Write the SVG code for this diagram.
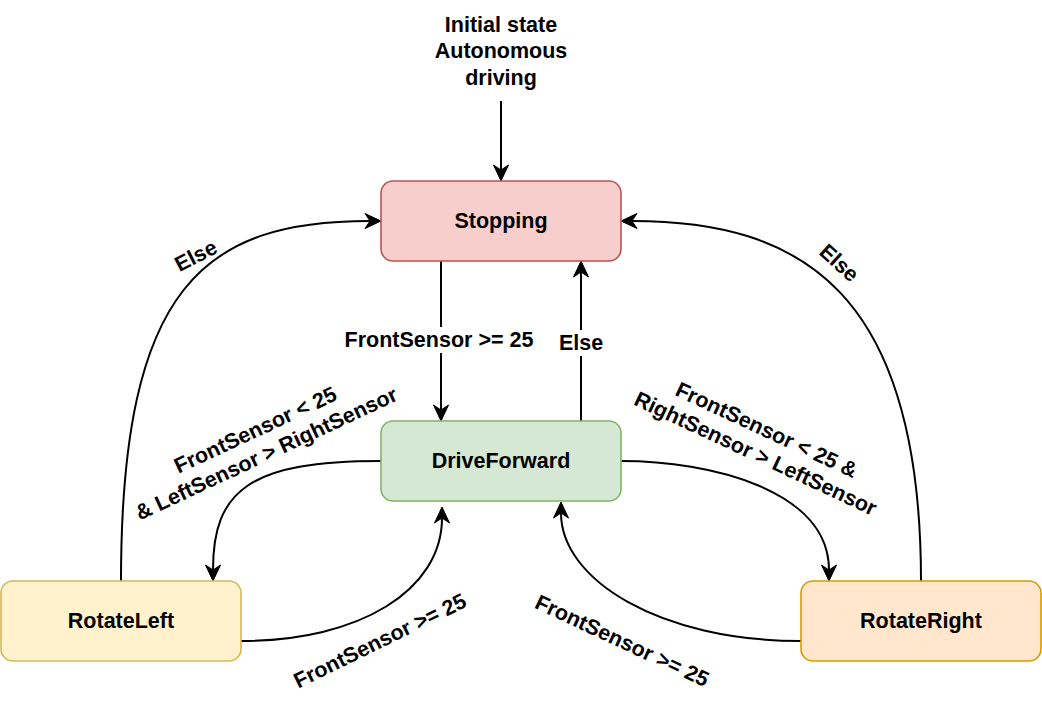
<svg xmlns="http://www.w3.org/2000/svg" width="1042" height="702" viewBox="0 0 1042 702">
<style>
.node rect{stroke-width:1.6}
text{font-family:"Liberation Sans",Arial,Helvetica,sans-serif;font-weight:bold;font-size:21.5px;fill:#000}
.c{text-anchor:middle;dominant-baseline:central}
.edge{fill:none;stroke:#000;stroke-width:2;marker-end:url(#arr)}
</style>
<defs>
<marker id="arr" viewBox="0 -9 18 18" markerWidth="18" markerHeight="18" refX="5" refY="0" orient="auto" markerUnits="userSpaceOnUse" overflow="visible">
<path d="M16,0 L0,-7.5 L5,0 L0,7.5 Z" fill="#000" stroke="#000" stroke-width="1"/>
</marker>
</defs>
<rect width="1042" height="702" fill="#fff"/>
<g id="connectors">
<path class="edge" d="M501,101 L501,170"/>
<path class="edge" d="M441,261 L441,410"/>
<path class="edge" d="M581,421 L581,272"/>
<path class="edge" d="M121,581 C121,285 205,221 370,221"/>
<path class="edge" d="M921,581 C921,290 800,221 632,221"/>
<path class="edge" d="M381,461 C250,461 213,490 213,570"/>
<path class="edge" d="M621,461 C710,461 829,490 829,570"/>
<path class="edge" d="M241,641 C360,641 442,590 442,518"/>
<path class="edge" d="M801,641 C660,641 561,580 561,513"/>
</g>
<g id="edge-labels">
<rect x="339" y="327" width="200" height="26" fill="#fff"/>
<text class="c" x="439" y="340">FrontSensor &gt;= 25</text>
<rect x="557" y="330" width="48" height="26" fill="#fff"/>
<text class="c" x="581" y="343">Else</text>
<text class="c" transform="translate(196,256) rotate(-27)">Else</text>
<text class="c" transform="translate(839,263) rotate(42)">Else</text>
<text class="c" transform="translate(261,442) rotate(-25)"><tspan x="0" y="-13">FrontSensor &lt; 25</tspan><tspan x="0" y="13">&amp; LeftSensor &gt; RightSensor</tspan></text>
<text class="c" transform="translate(761,442) rotate(25)"><tspan x="0" y="-13">FrontSensor &lt; 25 &amp;</tspan><tspan x="0" y="13">RightSensor &gt; LeftSensor</tspan></text>
<text class="c" transform="translate(380,641) rotate(-26)">FrontSensor &gt;= 25</text>
<text class="c" transform="translate(622,641) rotate(25)">FrontSensor &gt;= 25</text>
</g>
<g id="initial-label">
<text class="c" x="501" y="24.5">Initial state</text>
<text class="c" x="501" y="51">Autonomous</text>
<text class="c" x="501" y="77.5">driving</text>
</g>
<g id="Stopping" class="node">
<rect x="381" y="181" width="240" height="80" rx="12" fill="#f8cecc" stroke="#b85450"/>
<text class="c" x="501" y="221">Stopping</text>
</g>
<g id="DriveForward" class="node">
<rect x="381" y="421" width="240" height="80" rx="12" fill="#d5e8d4" stroke="#82b366"/>
<text class="c" x="501" y="461">DriveForward</text>
</g>
<g id="RotateLeft" class="node">
<rect x="1" y="581" width="240" height="80" rx="12" fill="#fff2cc" stroke="#d6b656"/>
<text class="c" x="121" y="621">RotateLeft</text>
</g>
<g id="RotateRight" class="node">
<rect x="801" y="581" width="240" height="80" rx="12" fill="#ffe6cc" stroke="#d79b00"/>
<text class="c" x="921" y="621">RotateRight</text>
</g>
</svg>
